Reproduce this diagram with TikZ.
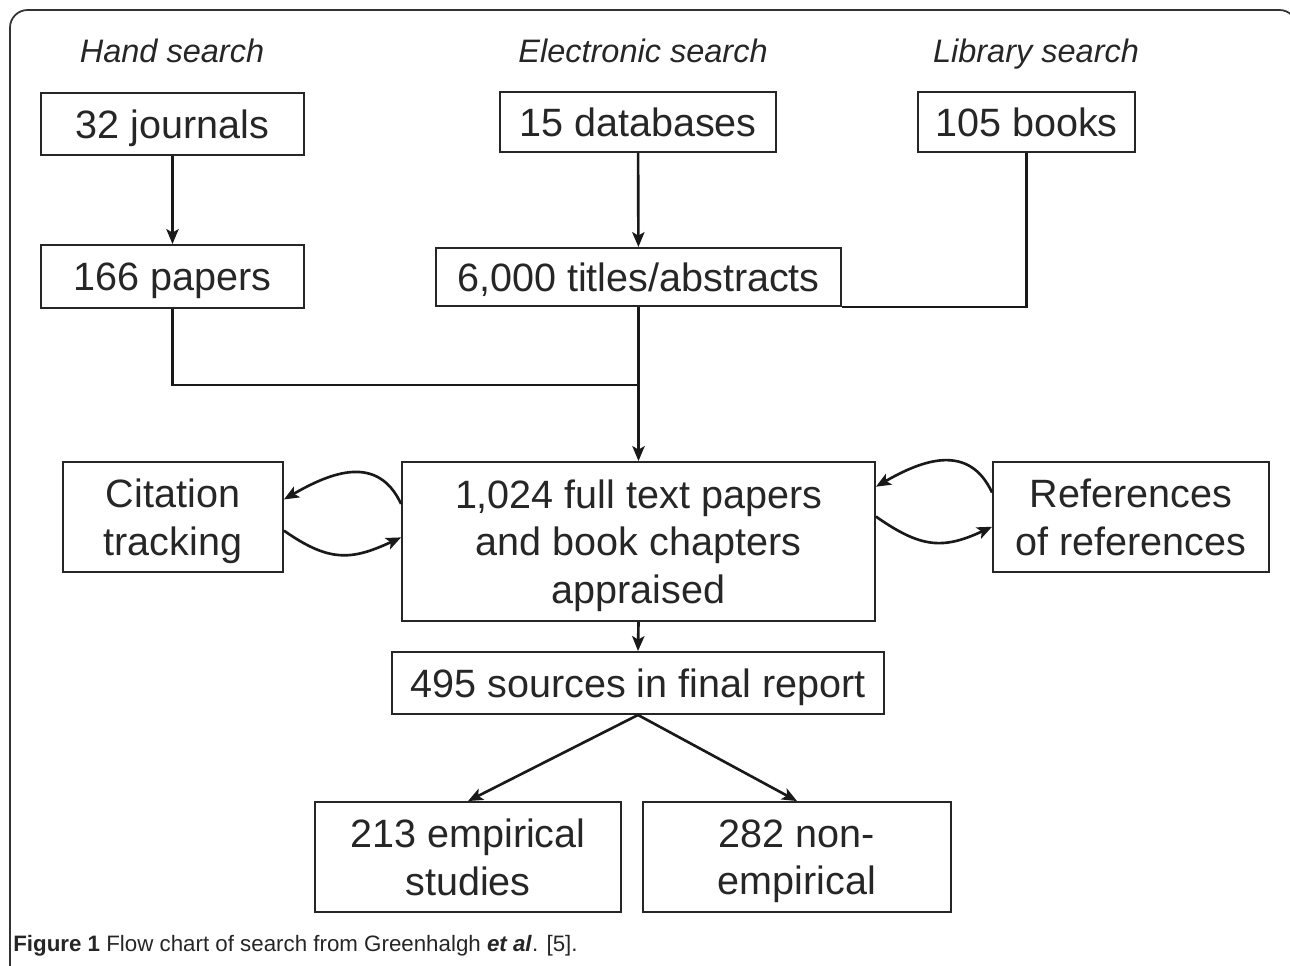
\documentclass[tikz,border=0pt]{standalone}
\usepackage{fontspec}
\setmainfont{Liberation Sans}
\usepackage{tikz}
\usetikzlibrary{arrows,arrows.meta,positioning}
\tikzset{
  >={Stealth[length=8.5pt,width=7pt,inset=2pt]},
  box/.style={rectangle, draw=black!85, line width=1.1pt, text=black!85,
              font=\fontsize{22.5}{27}\selectfont, align=center, inner sep=0pt,
              text depth=0pt},
  searchlabel/.style={font=\fontsize{18.5}{22}\selectfont\itshape, text=black!85, anchor=base},
  line/.style={draw=black!90, line width=1.5pt},
  loopline/.style={draw=black!90, line width=1.5pt, ->, looseness=1.2}
}

\begin{document}
\begin{tikzpicture}[x=0.02cm,y=-0.02cm]
\useasboundingbox (0,0) rectangle (1290,965);
\clip (0,0) rectangle (1290,965);
\draw[line width=1pt, black!80, rounded corners=10] (10,985) -- (10,10) -- (1297,10) -- (1297,985);

\node[searchlabel] (handlbl) at (172,62) {Hand search};
\node[searchlabel] (eleclbl) at (643,62) {Electronic search};
\node[searchlabel] (liblbl) at (1036,62) {Library search};

\node[box, minimum width=5.26cm, minimum height=1.24cm] (journals) at (172.5,124) {32 journals};
\node[box, minimum width=5.26cm, minimum height=1.26cm] (papers) at (172.5,276.5) {166 papers};
\node[box, minimum width=5.52cm, minimum height=1.2cm] (databases) at (638,122) {15 databases};
\node[box, minimum width=8.1cm, minimum height=1.16cm] (titles) at (638.5,277) {6,000 titles/abstracts};
\node[box, minimum width=4.34cm, minimum height=1.2cm] (books) at (1026.5,122) {105 books};

\node[box, minimum width=9.46cm, minimum height=3.18cm] (appraised) at (638.5,541.5)
  {1,024 full text papers\\and book chapters\\appraised};
\node[box, minimum width=4.4cm, minimum height=2.2cm] (citation) at (173,517) {Citation\\tracking};
\node[box, minimum width=5.52cm, minimum height=2.2cm] (refs) at (1131,517) {References\\of references};

\node[box, minimum width=9.84cm, minimum height=1.24cm] (sources) at (638,683) {495 sources in final report};
\node[box, minimum width=6.12cm, minimum height=2.2cm] (empirical) at (468,857) {213 empirical\\studies};
\node[box, minimum width=6.16cm, minimum height=2.2cm] (nonemp) at (797,857) {282 non-\\empirical};

\coordinate (merge) at (638.5,385);

\path[line,->] (journals) -- (papers);
\path[line,->] (databases) -- (titles);
\path[line] (papers.south) |- (merge);
\path[line] (books.south) |- (titles.south east);
\path[line,->] (titles.south) -- (appraised.north);
\path[line,->] (appraised.south) -- (sources.north);
\path[line,->] (sources.south) -- (empirical.north);
\path[line,->] (sources.south) -- (nonemp.north);

% loops
\path[loopline] (appraised.171) to[out=115,in=30] (citation.9);
\path[loopline] (citation.-7) to[out=-35,in=205] (appraised.179);
\path[loopline] (refs.170) to[out=115,in=30] (appraised.13);
\path[loopline] (appraised.6) to[out=-35,in=205] (refs.184);

\node[anchor=base west, inner sep=0pt, font=\fontsize{12.7}{15}\selectfont, text=black!85] (caption)
  at (13,951) {\textbf{Figure 1} Flow chart of search from Greenhalgh \textbf{\textit{et al}}. [5].};
\end{tikzpicture}
\end{document}
